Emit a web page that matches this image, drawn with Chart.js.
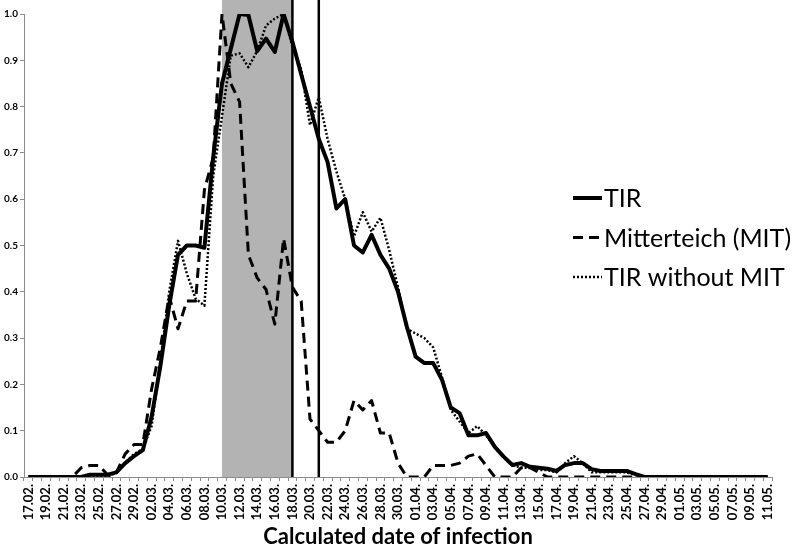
<!DOCTYPE html>
<html>
<head>
<meta charset="utf-8">
<script src="https://cdn.jsdelivr.net/npm/chart.js@4/dist/chart.umd.min.js"></script>
<style>
  html, body { margin: 0; padding: 0; background: #fff; }
</style>
</head>
<body>
<canvas id="chart" width="800" height="554"></canvas>
<script>
const DATES = [
  '17.02.', '18.02.', '19.02.', '20.02.', '21.02.', '22.02.', '23.02.', '24.02.', '25.02.', '26.02.',
  '27.02.', '28.02.', '29.02.', '01.03.', '02.03.', '03.03.', '04.03.', '05.03.', '06.03.', '07.03.',
  '08.03.', '09.03.', '10.03.', '11.03.', '12.03.', '13.03.', '14.03.', '15.03.', '16.03.', '17.03.',
  '18.03.', '19.03.', '20.03.', '21.03.', '22.03.', '23.03.', '24.03.', '25.03.', '26.03.', '27.03.',
  '28.03.', '29.03.', '30.03.', '31.03.', '01.04.', '02.04.', '03.04.', '04.04.', '05.04.', '06.04.',
  '07.04.', '08.04.', '09.04.', '10.04.', '11.04.', '12.04.', '13.04.', '14.04.', '15.04.', '16.04.',
  '17.04.', '18.04.', '19.04.', '20.04.', '21.04.', '22.04.', '23.04.', '24.04.', '25.04.', '26.04.',
  '27.04.', '28.04.', '29.04.', '30.04.', '01.05.', '02.05.', '03.05.', '04.05.', '05.05.', '06.05.',
  '07.05.', '08.05.', '09.05.', '10.05.', '11.05.',
]

const TIR = [
  0, 0, 0, 0, 0, 0, 0, 0.005, 0.005, 0.005,
  0.01, 0.03, 0.045, 0.058, 0.13, 0.24, 0.37, 0.48, 0.5, 0.5,
  0.495, 0.69, 0.85, 0.925, 1.0, 0.998, 0.92, 0.947, 0.918, 1.0,
  0.94, 0.87, 0.8, 0.73, 0.68, 0.58, 0.6, 0.5, 0.485, 0.523,
  0.48, 0.45, 0.4, 0.325, 0.26, 0.246, 0.246, 0.21, 0.15, 0.138,
  0.09, 0.09, 0.095, 0.065, 0.044, 0.026, 0.03, 0.022, 0.02, 0.018,
  0.013, 0.026, 0.03, 0.03, 0.017, 0.013, 0.013, 0.013, 0.013, 0.006,
  0, 0, 0, 0, 0, 0, 0, 0, 0, 0,
  0, 0, 0, 0, 0,
]

const MIT = [
  0, 0, 0, 0, 0, 0, 0.02, 0.025, 0.025, 0.005,
  0.01, 0.05, 0.07, 0.07, 0.19, 0.28, 0.39, 0.32, 0.38, 0.38,
  0.62, 0.69, 1.0, 0.85, 0.81, 0.48, 0.43, 0.405, 0.33, 0.515,
  0.41, 0.38, 0.125, 0.1, 0.075, 0.075, 0.1, 0.165, 0.145, 0.165,
  0.095, 0.095, 0.03, 0, 0, 0, 0.025, 0.025, 0.025, 0.03,
  0.045, 0.05, 0.025, 0, 0, 0, 0.02, 0.02, 0.01, 0,
  0, 0, 0, 0, 0, 0, 0, 0, 0, 0,
  0, 0, 0, 0, 0, 0, 0, 0, 0, 0,
  0, 0, 0, 0, 0,
]

const TIR_WITHOUT_MIT = [
  0, 0, 0, 0, 0, 0, 0, 0, 0, 0,
  0.01, 0.03, 0.05, 0.06, 0.11, 0.25, 0.4, 0.51, 0.44, 0.385,
  0.37, 0.65, 0.78, 0.91, 0.915, 0.885, 0.92, 0.975, 0.99, 1.0,
  0.93, 0.88, 0.76, 0.82, 0.73, 0.66, 0.6, 0.52, 0.572, 0.53,
  0.56, 0.49, 0.41, 0.32, 0.31, 0.3, 0.28, 0.215, 0.145, 0.12,
  0.095, 0.11, 0.09, 0.065, 0.045, 0.025, 0.02, 0.02, 0.015, 0.015,
  0.01, 0.03, 0.045, 0.03, 0.01, 0.01, 0.01, 0.01, 0.01, 0.005,
  0, 0, 0, 0, 0, 0, 0, 0, 0, 0,
  0, 0, 0, 0, 0,
]

const SHADE_FROM = '10.03.'
const SHADE_TO = '18.03.'
const MARKER_DATES = ['18.03.', '21.03.']

const AXIS_GREY = '#8c8c8c'

// grey period box and the two vertical markers, behind the lines
const periodPlugin = {
  id: 'period',
  beforeDatasetsDraw(chart) {
    const { ctx, chartArea, scales: { x } } = chart
    const left = x.getPixelForValue(DATES.indexOf(SHADE_FROM))
    const right = x.getPixelForValue(DATES.indexOf(SHADE_TO))
    ctx.save()
    ctx.fillStyle = '#b3b3b3'
    ctx.fillRect(left, 0, right - left, chartArea.bottom)
    ctx.strokeStyle = '#000'
    ctx.lineWidth = 2.5
    for (const date of MARKER_DATES) {
      const px = x.getPixelForValue(DATES.indexOf(date))
      ctx.beginPath()
      ctx.moveTo(px, 0)
      ctx.lineTo(px, chartArea.bottom)
      ctx.stroke()
    }
    ctx.restore()
  },
}

// legend sits inside the plot on the right, like the original
const sideLegend = {
  id: 'sideLegend',
  afterDraw(chart) {
    const { ctx } = chart
    ctx.save()
    ctx.font = '25px Lato'
    ctx.textBaseline = 'middle'
    ctx.fillStyle = '#000'
    chart.data.datasets.forEach((ds, i) => {
      const y = 198 + i * 39.5
      ctx.strokeStyle = '#000'
      ctx.lineWidth = ds.borderWidth
      ctx.setLineDash(ds.borderDash || [])
      ctx.beginPath()
      ctx.moveTo(573, y)
      ctx.lineTo(602, y)
      ctx.stroke()
      ctx.setLineDash([])
      ctx.fillText(ds.label, 604, y + 1)
    })
    ctx.restore()
  },
}

function lineSet(label, data, width, dash) {
  return {
    label,
    data,
    borderColor: '#000',
    backgroundColor: '#000',
    borderWidth: width,
    borderDash: dash,
    borderCapStyle: 'butt',
    borderJoinStyle: 'round',
    pointRadius: 0,
    tension: 0,
    fill: false,
  }
}

Chart.defaults.font.family = 'Lato'
Chart.defaults.color = '#000'

new Chart(document.getElementById('chart'), {
  type: 'line',
  data: {
    labels: DATES,
    datasets: [
      lineSet('TIR', TIR, 4, []),
      lineSet('Mitterteich (MIT)', MIT, 3, [10, 6]),
      lineSet('TIR without MIT', TIR_WITHOUT_MIT, 2.5, [2, 2]),
    ],
  },
  options: {
    responsive: false,
    animation: false,
    layout: { padding: { top: 14, right: 28, left: 0, bottom: 0 } },
    plugins: {
      legend: { display: false },
      tooltip: { enabled: false },
    },
    scales: {
      x: {
        offset: true,
        afterFit(scale) { scale.height = 77 },
        grid: {
          offset: true,
          drawOnChartArea: false,
          drawTicks: true,
          tickLength: 4,
          color: AXIS_GREY,
        },
        border: { color: AXIS_GREY, width: 1 },
        ticks: {
          autoSkip: false,
          maxRotation: 90,
          minRotation: 90,
          padding: 3,
          font: { size: 13, weight: 'bold' },
          callback: (value, index) => (index % 2 === 0 ? DATES[index] : ''),
        },
        title: {
          display: true,
          text: 'Calculated date of infection',
          font: { size: 22, weight: 'bold' },
          padding: { top: 0, bottom: 4 },
        },
      },
      y: {
        min: 0,
        max: 1,
        afterFit(scale) { scale.width = 24 },
        grid: {
          drawOnChartArea: false,
          drawTicks: true,
          tickLength: 4,
          color: AXIS_GREY,
        },
        border: { color: AXIS_GREY, width: 1 },
        ticks: {
          stepSize: 0.1,
          padding: 2,
          font: { size: 10, weight: 'bold' },
          callback: (value) => Number(value).toFixed(1),
        },
      },
    },
  },
  plugins: [periodPlugin, sideLegend],
})
</script>
</body>
</html>
